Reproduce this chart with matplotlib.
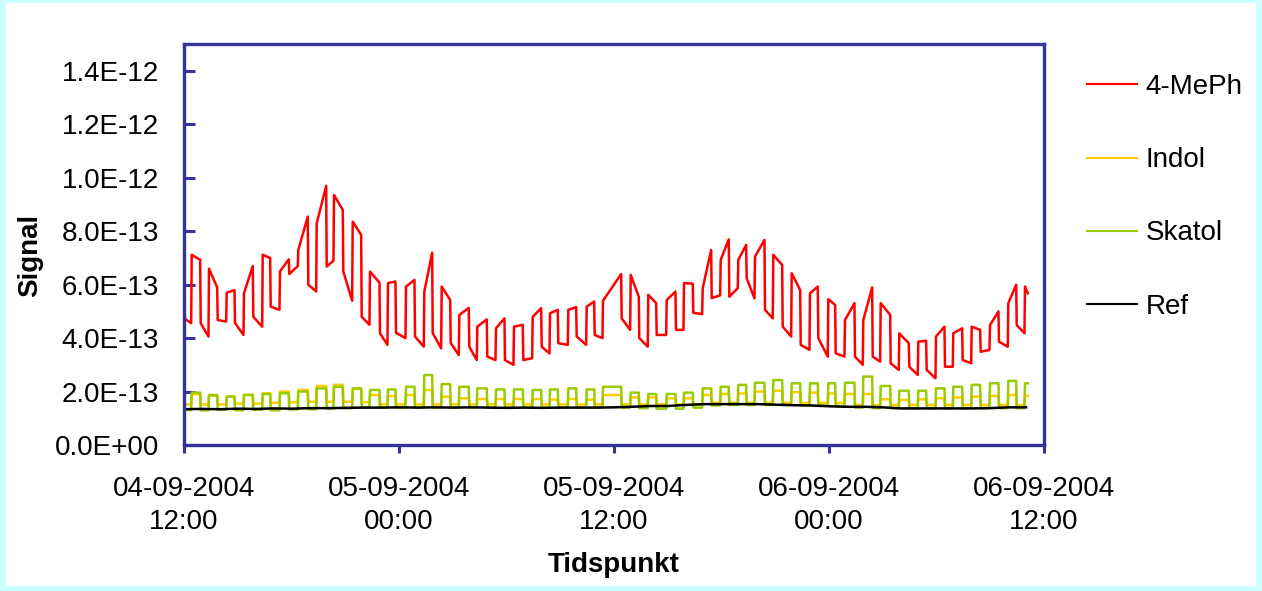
import numpy as np
import matplotlib
matplotlib.use("Agg")
import matplotlib.pyplot as plt
from matplotlib.patches import Rectangle
from matplotlib.ticker import FuncFormatter

plt.rcParams['font.family'] = ['Liberation Sans', 'DejaVu Sans']

# ---------------- data (hours after 04-09-2004 12:00, signal in 1E-13) -------------
rise_h = [0.43, 1.395, 2.383, 3.349, 4.393, 5.358, 6.380, 7.407, 8.372, 9.416,
          10.381, 11.386, 12.391, 13.412, 14.383, 15.366, 16.370, 17.414, 18.419, 19.462,
          20.428, 21.450, 22.476, 23.386, 24.932, 25.914, 26.941, 27.907, 28.951, 29.955,
          30.938, 31.870, 32.891, 33.918, 34.940, 35.961, 36.893, 37.915, 38.885, 39.923,
          40.984, 41.972, 42.938, 43.965, 44.986, 46.008, 46.940]
fall_h = [0.932, 1.881, 2.847, 3.868, 4.839, 5.877, 6.938, 7.965, 8.891, 9.918,
          10.940, 11.833, 12.893, 13.881, 14.886, 15.924, 16.929, 17.916, 18.938, 19.965,
          20.891, 21.918, 22.923, 24.430, 25.412, 26.383, 27.460, 28.426, 29.453, 30.436,
          31.406, 32.428, 33.416, 34.421, 35.403, 36.374, 37.451, 38.439, 39.443, 40.482,
          41.452, 42.474, 43.462, 44.466, 45.488, 46.477]
end_h = 47.1

# 4-MePh
meph_start = [4.75, 4.56]
meph_high_a = [7.12, 6.6, 5.7, 5.68, 7.12, 6.5, 7.3, 8.3, 9.36, 8.36,
               6.49, 6.06, 5.93, 5.74, 5.93, 4.87, 4.43, 4.37, 4.43, 4.8,
               4.93, 5.06, 5.18, 5.4, 6.37, 5.62, 5.43, 6.06, 5.87, 6.93,
               6.93, 7.05, 7.12, 6.43, 5.68, 5.46, 4.68, 4.68, 5.31, 4.18,
               3.87, 4.06, 4.18, 4.43, 4.49, 5.31, 5.93]
meph_high_b = [6.93, 5.9, 5.8, 6.7, 7.0, 6.95, 8.55, 9.7, 8.8, 7.87,
               6.08, 6.12, 6.18, 7.2, 5.43, 5.13, 4.7, 4.74, 4.5, 5.12,
               5.06, 5.16, 5.37, 6.4, 5.55, 5.31, 5.74, 6.04, 7.3, 7.7,
               7.49, 7.68, 6.74, 5.8, 5.93, 5.24, 5.31, 5.9, 4.87, 3.81,
               3.9, 4.43, 4.37, 4.31, 5.0, 6.0, 5.68]
meph_low_a = [4.56, 4.68, 4.57, 4.8, 5.18, 6.4, 6.0, 6.68, 6.5, 4.8,
              4.18, 4.2, 4.06, 4.19, 3.82, 3.68, 3.31, 3.18, 3.18, 3.68,
              3.81, 4.06, 4.12, 4.74, 4.0, 4.12, 4.31, 4.95, 5.5, 5.55,
              6.24, 5.06, 4.43, 3.75, 4.0, 3.43, 3.31, 3.31, 3.06, 2.93,
              2.81, 2.93, 3.18, 3.49, 3.87, 4.49]
meph_low_b = [4.06, 4.62, 4.12, 4.43, 5.06, 6.7, 5.75, 6.9, 5.4, 4.5,
              3.75, 4.0, 3.68, 3.62, 3.37, 3.18, 3.18, 3.0, 3.25, 3.43,
              3.75, 3.75, 4.0, 4.31, 3.68, 4.12, 4.31, 4.9, 5.6, 5.87,
              5.49, 4.74, 4.06, 3.56, 3.31, 3.31, 3.0, 3.12, 2.81, 2.62,
              2.5, 2.93, 3.06, 3.56, 3.68, 4.18]

# Indol
indol_start = [1.52, 1.52]
indol_high = [1.90, 1.85, 1.82, 1.88, 1.94, 2.0, 2.06, 2.21, 2.25, 2.1,
              1.87, 1.83, 1.87, 2.06, 1.81, 1.75, 1.72, 1.72, 1.72, 1.72,
              1.70, 1.72, 1.70, 1.87, 1.78, 1.78, 1.75, 1.75, 1.87, 1.91,
              1.93, 2.0, 2.03, 1.98, 1.96, 1.93, 1.91, 1.91, 1.71, 1.69,
              1.71, 1.75, 1.78, 1.81, 1.84, 1.87, 1.84]
indol_low = [1.52, 1.52, 1.55, 1.55, 1.58, 1.60, 1.62, 1.62, 1.62, 1.60,
             1.52, 1.52, 1.52, 1.52, 1.52, 1.52, 1.52, 1.52, 1.52, 1.52,
             1.52, 1.52, 1.52, 1.52, 1.52, 1.52, 1.52, 1.52, 1.58, 1.58,
             1.58, 1.58, 1.58, 1.58, 1.58, 1.58, 1.50, 1.50, 1.50, 1.50,
             1.50, 1.50, 1.50, 1.50, 1.50, 1.50]

# Skatol
skatol_start = [1.33, 1.30]
skatol_high = [1.96, 1.87, 1.81, 1.87, 1.91, 1.94, 2.0, 2.12, 2.18, 2.12,
               2.06, 2.08, 2.18, 2.62, 2.28, 2.18, 2.12, 2.08, 2.08, 2.06,
               2.08, 2.12, 2.08, 2.18, 1.96, 1.91, 1.91, 1.96, 2.12, 2.18,
               2.25, 2.33, 2.43, 2.31, 2.31, 2.31, 2.33, 2.56, 2.21, 2.03,
               2.03, 2.12, 2.18, 2.25, 2.31, 2.40, 2.31]
skatol_low = [1.30, 1.32, 1.30, 1.32, 1.30, 1.33, 1.34, 1.36, 1.38, 1.40,
              1.40, 1.40, 1.40, 1.40, 1.40, 1.40, 1.40, 1.40, 1.40, 1.40,
              1.40, 1.40, 1.40, 1.40, 1.38, 1.36, 1.36, 1.40, 1.48, 1.50,
              1.50, 1.50, 1.50, 1.48, 1.48, 1.46, 1.40, 1.38, 1.38, 1.38,
              1.38, 1.38, 1.38, 1.38, 1.38, 1.38]

# Ref (hourly)
ref_hours = list(range(48))
ref_vals = [1.34, 1.35, 1.34, 1.36, 1.35, 1.37, 1.36, 1.38, 1.38, 1.39,
            1.40, 1.40, 1.41, 1.40, 1.41, 1.40, 1.41, 1.40, 1.39, 1.40,
            1.39, 1.40, 1.40, 1.40, 1.41, 1.43, 1.46, 1.46, 1.50, 1.53,
            1.53, 1.53, 1.53, 1.51, 1.49, 1.48, 1.45, 1.43, 1.43, 1.41,
            1.37, 1.37, 1.37, 1.37, 1.37, 1.38, 1.41, 1.41]

series_names = ["4-MePh", "Indol", "Skatol", "Ref"]
series_colors = ["#FF0000", "#FFCC00", "#99CC00", "#000000"]

x_ticks_h = [0, 12, 24, 36, 48]
x_tick_labels = ["04-09-2004\n12:00", "05-09-2004\n00:00", "05-09-2004\n12:00",
                 "06-09-2004\n00:00", "06-09-2004\n12:00"]
y_ticks = [0.0, 2e-13, 4e-13, 6e-13, 8e-13, 1.0e-12, 1.2e-12, 1.4e-12]


def build(start, ha, hb, la, lb):
    t = [0.0, rise_h[0] - 0.03]
    v = [start[0], start[1]]
    for i in range(len(rise_h)):
        t.append(rise_h[i]); v.append(ha[i])
        if i < len(fall_h):
            t.append(fall_h[i] - 0.03); v.append(hb[i])
            t.append(fall_h[i]); v.append(la[i])
            t.append(rise_h[i + 1] - 0.03); v.append(lb[i])
        else:
            t.append(end_h); v.append(hb[i])
    return np.array(t), np.array(v) * 1e-13


W, H = 1262, 591
fig = plt.figure(figsize=(W / 100, H / 100), dpi=100)
fig.patch.set_facecolor("#CCFFFF")
fig.patches.append(Rectangle((6 / W, 5 / H), (W - 12) / W, (H - 8) / H,
                             transform=fig.transFigure, facecolor="white",
                             edgecolor="none", zorder=-10))

ax_l, ax_r, ax_t, ax_b = 184, 1044, 44.3, 445
ax = fig.add_axes([ax_l / W, (H - ax_b) / H, (ax_r - ax_l) / W, (ax_b - ax_t) / H])
ax.set_facecolor("white")

t1, v1 = build(meph_start, meph_high_a, meph_high_b, meph_low_a, meph_low_b)
t2, v2 = build(indol_start, indol_high, indol_high, indol_low, indol_low)
t3, v3 = build(skatol_start, skatol_high, skatol_high, skatol_low, skatol_low)

lw = 1.8
ax.plot(t1, v1, color=series_colors[0], lw=lw, label=series_names[0])
ax.plot(t2, v2, color=series_colors[1], lw=lw, label=series_names[1])
ax.plot(t3, v3, color=series_colors[2], lw=lw, label=series_names[2])
ax.plot(ref_hours, np.array(ref_vals) * 1e-13, color=series_colors[3], lw=lw,
        label=series_names[3])

ax.set_xlim(0, 48)
ax.set_ylim(0, 1.5e-12)
ax.set_xticks(x_ticks_h)
ax.set_xticklabels(x_tick_labels, linespacing=1.35)
ax.set_yticks(y_ticks)
ax.yaxis.set_major_formatter(FuncFormatter(lambda v, p: f"{v:.1E}"))

navy = "#333399"
for s in ax.spines.values():
    s.set_color(navy)
    s.set_linewidth(2.4)
ax.tick_params(axis="y", direction="in", length=8, width=2.2, color=navy,
               labelsize=20, pad=18)
ax.tick_params(axis="x", direction="out", length=6, width=2.2, color=navy,
               labelsize=20, pad=16)

fig.text(30 / W, 1 - 255 / H, "Signal", rotation=90, fontsize=20,
         fontweight="bold", ha="center", va="center")
fig.text(614 / W, 1 - 565 / H, "Tidspunkt", fontsize=20,
         fontweight="bold", ha="center", va="center")

leg = fig.legend(loc="upper left", bbox_to_anchor=(1087 / W, 1 - 74 / H),
                 frameon=False, fontsize=20, handlelength=1.8,
                 handletextpad=0.3, labelspacing=1.7, borderpad=0,
                 borderaxespad=0)
for line in leg.get_lines():
    line.set_linewidth(1.5)

fig.savefig("out.png", dpi=100, facecolor=fig.get_facecolor())
